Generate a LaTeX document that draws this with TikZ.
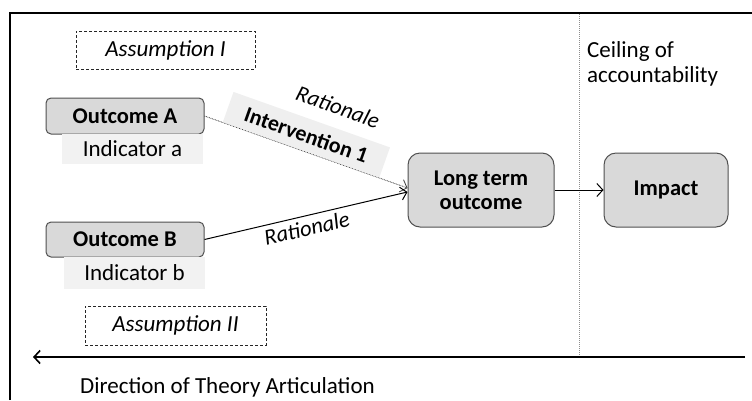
\documentclass[tikz,border=0pt]{standalone}
\usepackage{fontspec}
\setmainfont{Carlito}
\usetikzlibrary{arrows.meta}
\definecolor{boxfill}{HTML}{D9D9D9}
\definecolor{boxline}{HTML}{505050}
\definecolor{indfill}{HTML}{F2F2F2}
\definecolor{intfill}{HTML}{EFEFEF}
\begin{document}
\begin{tikzpicture}[x=1pt,y=-1pt,
  txt/.style={font=\fontsize{23}{25}\selectfont},
  outbox/.style={draw=boxline, fill=boxfill, rounded corners=5pt, line width=1pt,
    font=\fontsize{22.5}{25}\selectfont\bfseries, inner sep=0pt, minimum width=158pt, minimum height=36pt},
  indbox/.style={txt, fill=indfill, inner sep=0pt, minimum width=141pt, minimum height=30pt},
  asmbox/.style={draw=black!85, dash pattern=on 3pt off 2pt, line width=0.9pt, inner sep=0pt,
    minimum width=179pt, minimum height=38pt, font=\fontsize{23}{25}\selectfont\itshape},
  bigbox/.style={outbox, rounded corners=12pt, minimum height=74pt, align=center},
  conn/.style={-{Straight Barb[length=6pt,width=13pt]}, line width=1pt},
  ratio/.style={font=\fontsize{22.5}{25}\selectfont\itshape, inner sep=0pt, sloped}
]
\useasboundingbox (0,0) rectangle (752,400);
% frame
\draw[line width=2.8pt] (10,400) -- (10,13) -- (752,13);

% ceiling of accountability
\coordinate (ceilTop) at (579,14);
\coordinate (ceilBot) at (579,357);
\draw[black!45, line width=0.8pt, dash pattern=on 1pt off 1pt] (ceilTop) -- (ceilBot);
\node[txt, anchor=north west, align=left, inner sep=0pt] (ceil) at (587,41) {Ceiling of\\accountability};

% nodes
\node[asmbox] (asm1) at (165.5,50) {Assumption I};
\node[outbox] (outA) at (125,116) {Outcome A};
\node[indbox] (indA) at (132.5,149) {Indicator a};
\node[outbox, minimum height=35pt] (outB) at (125,239.5) {Outcome B};
\node[indbox, minimum height=32pt] (indB) at (134.5,273) {Indicator b};
\node[asmbox, minimum width=181pt, minimum height=39pt] (asm2) at (175.5,325.5) {Assumption II};
\node[bigbox, minimum width=146pt] (lto) at (481,190) {Long term\\[-1pt]outcome};
\node[bigbox, minimum width=124pt] (imp) at (666,190) {Impact};

% connectors
\draw[conn, draw=black!75, line width=0.8pt, dash pattern=on 0.8pt off 0.8pt]
  (outA.east) --
  node[pos=0.475, sloped, anchor=south, fill=intfill, minimum width=166pt, minimum height=32pt,
       inner sep=0pt, font=\fontsize{22}{25}\selectfont\bfseries] (interv) {Intervention 1}
  node[ratio, pos=0.57, anchor=south, yshift=45pt] (ratA) {Rationale}
  ([yshift=2pt]lto.west);
\draw[conn] (outB.east) --
  node[ratio, pos=0.49, anchor=north, yshift=-4pt] (ratB) {Rationale}
  ([yshift=-2pt]lto.west);
\draw[conn] (lto.east) -- (imp.west);

% direction arrow
\coordinate (dirR) at (745,357);
\coordinate (dirL) at (33,357);
\draw[conn, line width=1.6pt] (dirR) -- (dirL);
\node[txt, anchor=base west, inner sep=0pt] (dir) at (80,393) {Direction of Theory Articulation};
\end{tikzpicture}
\end{document}
